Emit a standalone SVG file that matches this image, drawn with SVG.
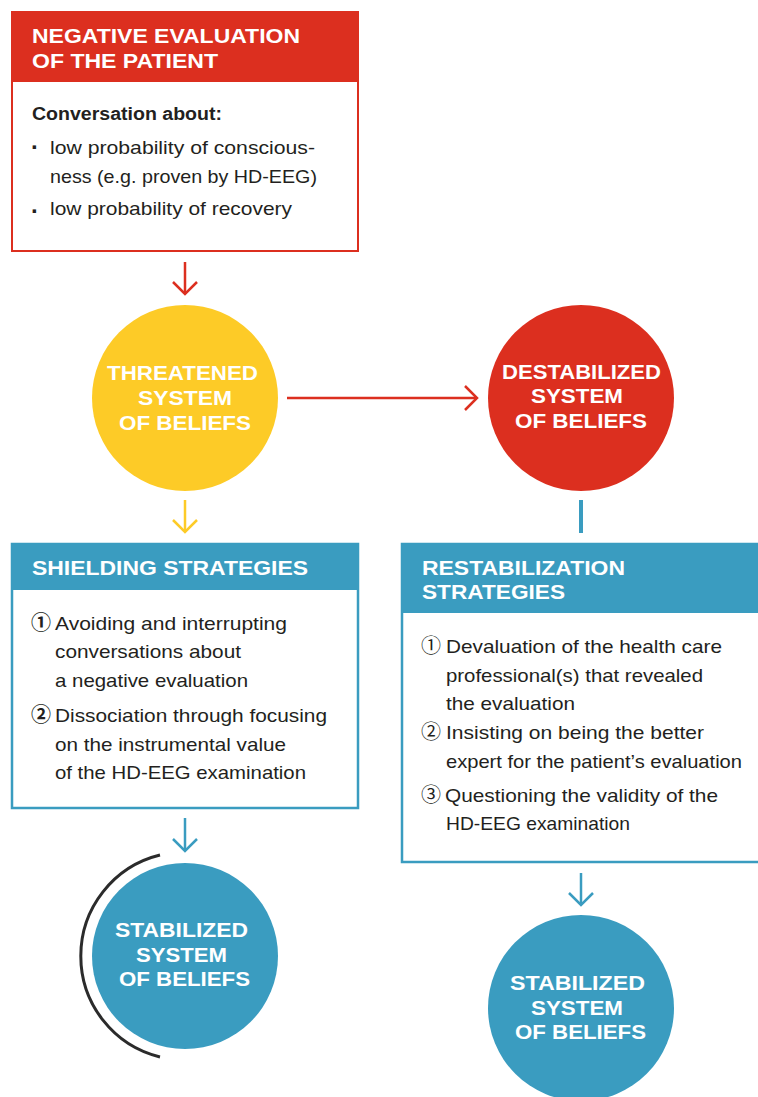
<svg xmlns="http://www.w3.org/2000/svg" width="758" height="1097" viewBox="0 0 758 1097">
  <style>
    .head { font-family: "Liberation Sans", Arial, sans-serif; font-weight: bold; font-size: 19.5px; fill: #ffffff; }
    .disc { font-family: "Liberation Sans", Arial, sans-serif; font-weight: bold; font-size: 20.5px; fill: #ffffff; }
    .body { font-family: "Liberation Sans", Arial, sans-serif; font-size: 18.5px; fill: #231f20; }
    .num  { font-family: "Liberation Sans", "Noto Sans CJK JP", "DejaVu Sans", sans-serif; font-size: 20px; fill: #231f20; }
    .num.heavy { font-weight: bold; }
    .lead { font-family: "Liberation Sans", Arial, sans-serif; font-weight: bold; font-size: 18px; fill: #231f20; }
    .dot  { font-family: "Liberation Sans", Arial, sans-serif; font-weight: bold; font-size: 24px; fill: #231f20; }
    .link { fill: none; stroke-width: 2.5; }
    .red { stroke: #dc2f1f; }
    .yellow { stroke: #fdcb27; }
    .blue { stroke: #3a9cc0; }
  </style>
  <defs>
    <marker id="head-red" markerUnits="userSpaceOnUse" viewBox="0 0 30 30" refX="27" refY="15" markerWidth="30" markerHeight="30" orient="auto">
      <path d="M15 3 L27 15 L15 27" fill="none" stroke="#dc2f1f" stroke-width="2.5"/>
    </marker>
    <marker id="head-yellow" markerUnits="userSpaceOnUse" viewBox="0 0 30 30" refX="27" refY="15" markerWidth="30" markerHeight="30" orient="auto">
      <path d="M15 3 L27 15 L15 27" fill="none" stroke="#fdcb27" stroke-width="2.5"/>
    </marker>
    <marker id="head-blue" markerUnits="userSpaceOnUse" viewBox="0 0 30 30" refX="27" refY="15" markerWidth="30" markerHeight="30" orient="auto">
      <path d="M15 3 L27 15 L15 27" fill="none" stroke="#3a9cc0" stroke-width="2.5"/>
    </marker>
  </defs>

  <rect width="758" height="1097" fill="#ffffff"/>

  <!-- connectors -->
  <g id="connectors">
    <line class="link red" x1="185" y1="262" x2="185" y2="294" marker-end="url(#head-red)"/>
    <line class="link red" x1="287" y1="398" x2="477" y2="398" marker-end="url(#head-red)"/>
    <line class="link yellow" x1="185" y1="500" x2="185" y2="532" marker-end="url(#head-yellow)"/>
    <line class="blue" x1="581" y1="500" x2="581" y2="533" stroke-width="4"/>
    <line class="link blue" x1="185" y1="818" x2="185" y2="851" marker-end="url(#head-blue)"/>
    <line class="link blue" x1="581" y1="873" x2="581" y2="905" marker-end="url(#head-blue)"/>
  </g>

  <!-- negative evaluation box -->
  <g id="negative-evaluation">
    <rect x="12" y="12" width="346" height="239" fill="#ffffff" stroke="#dc2f1f" stroke-width="2"/>
    <rect x="11" y="11" width="348" height="71" fill="#dc2f1f"/>
    <text class="head" x="32" y="43" textLength="268" lengthAdjust="spacingAndGlyphs">NEGATIVE EVALUATION</text>
    <text class="head" x="32" y="68" textLength="186" lengthAdjust="spacingAndGlyphs">OF THE PATIENT</text>
    <text class="lead" x="32" y="120" textLength="190" lengthAdjust="spacingAndGlyphs">Conversation about:</text>
    <text class="dot" x="31" y="155">·</text>
    <text class="body" x="50" y="154" textLength="265" lengthAdjust="spacingAndGlyphs">low probability of conscious-</text>
    <text class="body" x="50" y="183" textLength="267" lengthAdjust="spacingAndGlyphs">ness (e.g. proven by HD-EEG)</text>
    <text class="dot" x="31" y="219">·</text>
    <text class="body" x="50" y="215" textLength="242" lengthAdjust="spacingAndGlyphs">low probability of recovery</text>
  </g>

  <!-- threatened system of beliefs -->
  <g id="threatened">
    <circle cx="185" cy="398" r="93" fill="#fdcb27"/>
    <text class="disc" x="107" y="380" textLength="151" lengthAdjust="spacingAndGlyphs">THREATENED</text>
    <text class="disc" x="138" y="405" textLength="94" lengthAdjust="spacingAndGlyphs">SYSTEM</text>
    <text class="disc" x="119" y="430" textLength="132" lengthAdjust="spacingAndGlyphs">OF BELIEFS</text>
  </g>

  <!-- destabilized system of beliefs -->
  <g id="destabilized">
    <circle cx="581" cy="398" r="93" fill="#dc2f1f"/>
    <text class="disc" x="502" y="379" textLength="159" lengthAdjust="spacingAndGlyphs">DESTABILIZED</text>
    <text class="disc" x="531" y="403" textLength="92" lengthAdjust="spacingAndGlyphs">SYSTEM</text>
    <text class="disc" x="515" y="428" textLength="132" lengthAdjust="spacingAndGlyphs">OF BELIEFS</text>
  </g>

  <!-- shielding strategies -->
  <g id="shielding">
    <rect x="12" y="544" width="346" height="264" fill="#ffffff" stroke="#3a9cc0" stroke-width="2.5"/>
    <rect x="11" y="543" width="348" height="47" fill="#3a9cc0"/>
    <text class="head" x="32" y="575" textLength="276" lengthAdjust="spacingAndGlyphs">SHIELDING STRATEGIES</text>
    <text class="num heavy" x="31" y="630">①</text>
    <text class="body" x="55" y="630" textLength="232" lengthAdjust="spacingAndGlyphs">Avoiding and interrupting</text>
    <text class="body" x="55" y="658" textLength="186" lengthAdjust="spacingAndGlyphs">conversations about</text>
    <text class="body" x="55" y="687" textLength="193" lengthAdjust="spacingAndGlyphs">a negative evaluation</text>
    <text class="num heavy" x="31" y="722">②</text>
    <text class="body" x="55" y="722" textLength="272" lengthAdjust="spacingAndGlyphs">Dissociation through focusing</text>
    <text class="body" x="55" y="751" textLength="231" lengthAdjust="spacingAndGlyphs">on the instrumental value</text>
    <text class="body" x="55" y="779" textLength="251" lengthAdjust="spacingAndGlyphs">of the HD-EEG examination</text>
  </g>

  <!-- restabilization strategies -->
  <g id="restabilization">
    <rect x="402" y="544" width="360" height="318" fill="#ffffff" stroke="#3a9cc0" stroke-width="2.5"/>
    <rect x="401" y="543" width="360" height="70" fill="#3a9cc0"/>
    <text class="head" x="422" y="575" textLength="203" lengthAdjust="spacingAndGlyphs">RESTABILIZATION</text>
    <text class="head" x="422" y="599" textLength="143" lengthAdjust="spacingAndGlyphs">STRATEGIES</text>
    <text class="num" x="421" y="653">①</text>
    <text class="body" x="446" y="653" textLength="276" lengthAdjust="spacingAndGlyphs">Devaluation of the health care</text>
    <text class="body" x="446" y="682" textLength="257" lengthAdjust="spacingAndGlyphs">professional(s) that revealed</text>
    <text class="body" x="446" y="710" textLength="129" lengthAdjust="spacingAndGlyphs">the evaluation</text>
    <text class="num" x="421" y="739">②</text>
    <text class="body" x="446" y="739" textLength="258" lengthAdjust="spacingAndGlyphs">Insisting on being the better</text>
    <text class="body" x="446" y="768" textLength="296" lengthAdjust="spacingAndGlyphs">expert for the patient’s evaluation</text>
    <text class="num" x="421" y="802">③</text>
    <text class="body" x="445" y="802" textLength="273" lengthAdjust="spacingAndGlyphs">Questioning the validity of the</text>
    <text class="body" x="446" y="830" textLength="184" lengthAdjust="spacingAndGlyphs">HD-EEG examination</text>
  </g>

  <!-- stabilized system of beliefs, shielded side -->
  <g id="stabilized-left">
    <path d="M160 855 A104 104 0 0 0 160 1057" fill="none" stroke="#2b2b2b" stroke-width="3"/>
    <circle cx="185" cy="956" r="93" fill="#3a9cc0"/>
    <text class="disc" x="115" y="937" textLength="133" lengthAdjust="spacingAndGlyphs">STABILIZED</text>
    <text class="disc" x="136" y="962" textLength="91" lengthAdjust="spacingAndGlyphs">SYSTEM</text>
    <text class="disc" x="119" y="986" textLength="131" lengthAdjust="spacingAndGlyphs">OF BELIEFS</text>
  </g>

  <!-- stabilized system of beliefs, restabilized side -->
  <g id="stabilized-right">
    <circle cx="581" cy="1008" r="93" fill="#3a9cc0"/>
    <text class="disc" x="510" y="990" textLength="135" lengthAdjust="spacingAndGlyphs">STABILIZED</text>
    <text class="disc" x="531" y="1015" textLength="92" lengthAdjust="spacingAndGlyphs">SYSTEM</text>
    <text class="disc" x="515" y="1039" textLength="131" lengthAdjust="spacingAndGlyphs">OF BELIEFS</text>
  </g>
</svg>
